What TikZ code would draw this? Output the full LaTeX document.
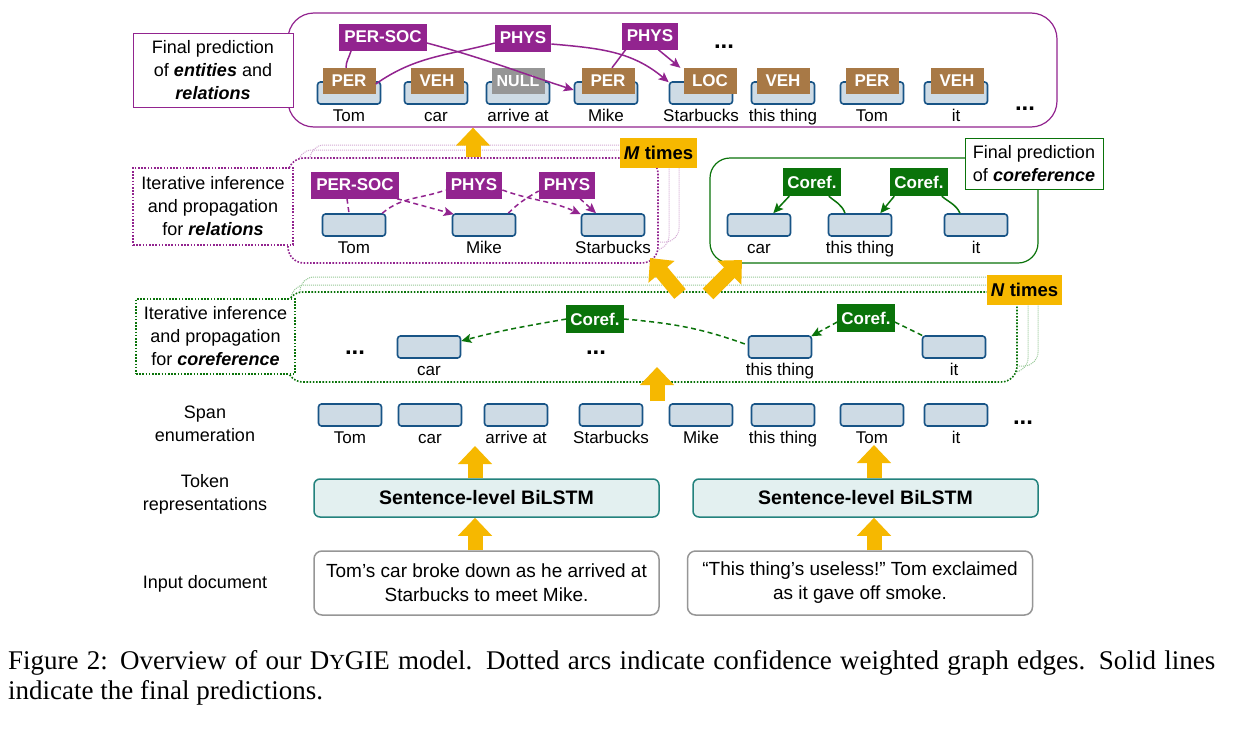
\documentclass[tikz,border=0pt]{standalone}
\usepackage{fontspec}
\setmainfont{Liberation Sans}
\newfontfamily\capfont{Liberation Serif}
\usetikzlibrary{arrows.meta,calc}
\definecolor{pur}{RGB}{146,36,143}
\definecolor{purl}{RGB}{212,170,212}
\definecolor{grn}{RGB}{10,115,10}
\definecolor{grnl}{RGB}{150,200,150}
\definecolor{yel}{RGB}{246,184,0}
\definecolor{brn}{RGB}{168,121,70}
\definecolor{nullg}{RGB}{150,150,150}
\definecolor{spf}{RGB}{206,219,229}
\definecolor{spd}{RGB}{24,84,134}
\definecolor{bif}{RGB}{227,240,240}
\definecolor{bid}{RGB}{35,130,125}
\definecolor{ing}{RGB}{150,150,150}
\newcommand\fs{\fontsize{17}{23}\selectfont}
\newcommand\fsb{\fontsize{17}{20}\selectfont\bfseries}
\newcommand\fl{\fontsize{18}{23}\selectfont}
\newcommand\spanat[4]{\node[spanbox] (#1) at (#2,#3) {}; \node[wordtxt] (#1w) at ($(#1.center)+(0,-28)$) {#4};}
\begin{document}
\begin{tikzpicture}[x=1pt,y=1pt,
 spanbox/.style={draw=spd, fill=spf, line width=1.6pt, rounded corners=3pt, minimum width=63pt, minimum height=22pt, inner sep=0pt},
 wordtxt/.style={font=\fs, inner sep=0pt, anchor=base},
 entlab/.style={fill=brn, text=white, font=\fsb, minimum width=53pt, minimum height=26pt, inner sep=0pt},
 nulllab/.style={entlab, fill=nullg, font=\fontsize{16}{20}\selectfont\bfseries},
 rellab/.style={fill=pur, text=white, font=\fsb, minimum height=27pt, inner xsep=5pt, inner ysep=0pt},
 corlab/.style={fill=grn, text=white, font=\fsb, minimum height=28pt, inner xsep=4pt, inner ysep=0pt},
 timesbox/.style={fill=yel, font=\fontsize{18.5}{20}\selectfont\bfseries, minimum height=30pt, inner xsep=4pt, inner ysep=0pt},
 boxlabel/.style={font=\fl, align=center, fill=white, inner sep=0pt},
 dotline/.style={line width=1.6pt, dash pattern=on 1.6pt off 1.6pt},
 backline/.style={line width=1pt, dash pattern=on 1pt off 1pt},
 relback/.style={draw=purl, backline, rounded corners=14pt, inner sep=0pt},
 relmain/.style={draw=pur, fill=white, dotline, rounded corners=16pt, inner sep=0pt},
 corback/.style={draw=grnl, backline, rounded corners=14pt, inner sep=0pt},
 cormain/.style={draw=grn, fill=white, dotline, rounded corners=16pt, inner sep=0pt},
 topfr/.style={draw=pur, line width=1.2pt, rounded corners=26pt, inner sep=0pt},
 finfr/.style={draw=grn, line width=1.2pt, rounded corners=20pt, inner sep=0pt},
 rsolid/.style={draw=pur, line width=1.5pt},
 rdash/.style={draw=pur, line width=1.5pt, dash pattern=on 5pt off 3.5pt},
 csolid/.style={draw=grn, line width=1.5pt},
 cdash/.style={draw=grn, line width=1.5pt, dash pattern=on 5pt off 3.5pt},
 harrow/.style={-{Stealth[length=10pt,width=9pt,inset=2pt]}},
 yarr/.style={draw=yel, line width=15pt, -{Triangle[length=18pt,width=33pt]}},
 ell/.style={font=\fontsize{24}{24}\selectfont\bfseries, inner sep=0pt, anchor=base},
 lefttxt/.style={font=\fl, align=center, inner sep=0pt},
 bilstm/.style={draw=bid, fill=bif, line width=1.5pt, rounded corners=6pt, minimum width=345pt, minimum height=38pt, inner sep=0pt, font=\fontsize{19.5}{22}\selectfont\bfseries},
 inbox/.style={draw=ing, line width=1.5pt, rounded corners=8pt, minimum width=345pt, minimum height=64pt, inner sep=0pt, align=center, font=\fontsize{19}{24}\selectfont\frenchspacing},
]
\useasboundingbox (0,0) rectangle (1238,-728);
\fill[white] (0,0) rectangle (1238,-728);

% ---------- frames ----------
\node[relback, minimum width=369pt, minimum height=97pt] (rb2) at (494.5,-193.5) {};
\node[relback, minimum width=371pt, minimum height=100pt] (rb1) at (483.5,-200) {};
\node[relmain, minimum width=370pt, minimum height=105pt] (relframe) at (473,-210.5) {};
\node[corback, minimum width=738pt, minimum height=89pt] (cb2) at (669,-321.5) {};
\node[corback, minimum width=737pt, minimum height=87pt] (cb1) at (659.5,-328.5) {};
\node[cormain, minimum width=730pt, minimum height=90pt] (corframe) at (652,-337) {};
\node[topfr, minimum width=769pt, minimum height=114pt] (topframe) at (672.5,-70) {};
\node[finfr, minimum width=328pt, minimum height=105pt] (finframe) at (874,-210.5) {};

% ---------- section labels ----------
\node[boxlabel, draw=pur, line width=0.9pt, minimum width=160pt, minimum height=74pt] (L1) at (213,-70) {Final prediction\\of \textbf{\textit{entities}} and\\\textbf{\textit{relations}}};
\node[boxlabel, draw=pur, dotline, minimum width=160pt, minimum height=77pt] (L2) at (213,-206.5) {Iterative inference\\and propagation\\for \textbf{\textit{relations}}};
\node[boxlabel, draw=grn, dotline, minimum width=159pt, minimum height=75pt] (L3) at (215.5,-336.5) {Iterative inference\\and propagation\\for \textbf{\textit{coreference}}};
\node[boxlabel, draw=grn, line width=0.9pt, minimum width=138pt, minimum height=51pt] (L4) at (1034,-163.5) {Final prediction\\of \textbf{\textit{coreference}}};

% ---------- top row ----------
\spanat{t1}{349}{-93}{Tom}
\spanat{t2}{436}{-93}{car}
\spanat{t3}{518}{-93}{arrive at}
\spanat{t4}{606}{-93}{Mike}
\spanat{t5}{701}{-93}{Starbucks}
\spanat{t6}{783}{-93}{this thing}
\spanat{t7}{872}{-93}{Tom}
\spanat{t8}{956}{-93}{it}
\node[entlab] (e1) at (349,-81) {PER};
\node[entlab] (e2) at (437,-81) {VEH};
\node[nulllab] (e3) at (518,-81) {NULL};
\node[entlab] (e4) at (608,-81) {PER};
\node[entlab] (e5) at (710,-81) {LOC};
\node[entlab] (e6) at (783,-81) {VEH};
\node[entlab] (e7) at (872,-81) {PER};
\node[entlab] (e8) at (957,-81) {VEH};
\node[rellab] (r1) at (383,-37) {PER-SOC};
\node[rellab] (r2) at (523,-38) {PHYS};
\node[rellab] (r3) at (650,-36) {PHYS};
\node[ell] (dt1) at (724,-48) {...};
\node[ell] (dt2) at (1025,-110) {...};
\draw[rsolid] ($(e1.north)+(-3,0)$) to[out=90,in=-105] ($(r1.south west)+(12,0)$);
\draw[rsolid,harrow] ($(r1.east)+(0,-6)$) to[out=-15,in=162] ($(t4.west)+(0,3)$);
\draw[rsolid] ($(e1.east)+(0,-3)$) to[out=35,in=195] ($(r2.west)+(0,-5)$);
\draw[rsolid,harrow] ($(r2.east)+(0,-6)$) to[out=-5,in=140] ($(t5.north west)+(0,-1)$);
\draw[rsolid] ($(e4.north)+(4,0)$) -- ($(r3.south west)+(4,0)$);
\draw[rsolid,harrow] ($(r3.south east)+(-20,0)$) -- ($(e5.north west)+(-3,0)$);

% ---------- iterative relations ----------
\spanat{mA}{354}{-225}{Tom}
\spanat{mB}{484}{-225}{Mike}
\spanat{mC}{613}{-225}{Starbucks}
\node[rellab] (m1) at (355,-185) {PER-SOC};
\node[rellab] (m2) at (474,-185) {PHYS};
\node[rellab] (m3) at (567,-185) {PHYS};
\draw[rdash] ($(m1.south)+(-8,0)$) -- ($(mA.north)+(-5,0)$);
\draw[rdash,harrow] ($(m1.south east)+(-2,0)$) -- ($(mB.north west)+(2,-1)$);
\draw[rdash] ($(mA.north east)+(-4,0)$) to[out=40,in=200] ($(m2.west)+(0,-5)$);
\draw[rdash,harrow] ($(m2.east)+(0,-5)$) to[out=-20,in=155] ($(mC.north west)+(0,-1)$);
\draw[rdash] ($(mB.north east)+(-8,0)$) to[out=45,in=210] ($(m3.west)+(0,-6)$);
\draw[rdash,harrow] ($(m3.south)+(13,0)$) -- ($(mC.north)+(-17,0)$);

% ---------- final coreference ----------
\spanat{fA}{759}{-225}{car}
\spanat{fB}{860}{-225}{this thing}
\spanat{fC}{976}{-225}{it}
\node[corlab] (c1) at (812,-182) {Coref.};
\node[corlab] (c2) at (919,-182) {Coref.};
\draw[csolid,harrow] ($(c1.south west)+(6,0)$) -- ($(fA.north east)+(-18,0)$);
\draw[csolid] ($(c1.south east)+(-12,0)$) to[out=-40,in=110] ($(fB.north)+(-15,0)$);
\draw[csolid,harrow] ($(c2.south west)+(4,0)$) -- ($(fB.north east)+(-12,0)$);
\draw[csolid] ($(c2.south east)+(-6,0)$) to[out=-40,in=115] ($(fC.north)+(-16,0)$);

% ---------- iterative coreference ----------
\spanat{iA}{429}{-347}{car}
\spanat{iB}{780}{-347}{this thing}
\spanat{iC}{954}{-347}{it}
\node[corlab] (i1) at (595,-319) {Coref.};
\node[corlab] (i2) at (866,-318) {Coref.};
\node[ell] (dt3) at (355,-354) {...};
\node[ell] (dt4) at (596,-354) {...};
\draw[cdash,harrow] (i1.west) to[out=190,in=15] ($(iA.east)+(0,6)$);
\draw[cdash] (i1.east) to[out=-5,in=160] ($(iB.west)+(0,2)$);
\draw[cdash,harrow] ($(i2.west)+(0,-4)$) -- ($(iB.north east)+(-1,-1)$);
\draw[cdash] ($(i2.east)+(0,-4)$) -- ($(iC.north west)+(2,-1)$);

% ---------- span enumeration ----------
\spanat{sA}{350}{-415}{Tom}
\spanat{sB}{430}{-415}{car}
\spanat{sC}{516}{-415}{arrive at}
\spanat{sD}{611}{-415}{Starbucks}
\spanat{sE}{701}{-415}{Mike}
\spanat{sF}{783}{-415}{this thing}
\spanat{sG}{872}{-415}{Tom}
\spanat{sH}{956}{-415}{it}
\node[ell] (dt5) at (1023,-424) {...};

% ---------- left labels ----------
\node[lefttxt] (lspan) at (205,-424) {Span\\enumeration};
\node[lefttxt] (ltok) at (205,-494) {Token\\representations};
\node[lefttxt] (linp) at (205,-584) {Input document};

% ---------- encoder ----------
\node[bilstm] (bi1) at (486.5,-498) {Sentence-level BiLSTM};
\node[bilstm] (bi2) at (865.5,-498) {Sentence-level BiLSTM};
\node[inbox] (in1) at (486.5,-583) {Tom’s car broke down as he arrived at\\Starbucks to meet Mike.};
\node[inbox] (in2) at (860,-583) {“This thing’s useless!” Tom exclaimed\\as it gave off smoke.};

% ---------- yellow arrows ----------
\coordinate (ax1) at (475,0);
\coordinate (ax2) at (874,0);
\coordinate (ax3) at (473,0);
\coordinate (tip1) at (475,-446);
\coordinate (tip2) at (874,-445);
\coordinate (y5a) at (657,-401);
\coordinate (y5b) at (657,-367);
\coordinate (y6a) at (680,-294);
\coordinate (y6b) at (650,-258);
\coordinate (y7a) at (708,-294);
\coordinate (y7b) at (742,-260);
\draw[yarr] (in1.north -| ax1) -- (bi1.south -| ax1);
\draw[yarr] (bi1.north -| ax1) -- (tip1);
\draw[yarr] (in2.north -| ax2) -- (bi2.south -| ax2);
\draw[yarr] (bi2.north -| ax2) -- (tip2);
\draw[yarr] (y5a) -- (y5b);
\draw[yarr] (y6a) -- (y6b);
\draw[yarr] (y7a) -- (y7b);
\draw[yarr] (relframe.north -| ax3) -- (topframe.south -| ax3);

% ---------- repeat counters ----------
\node[timesbox] (mt) at (658.5,-153) {\textit{M} times};
\node[timesbox] (nt) at (1024.5,-290) {\textit{N} times};

% ---------- caption ----------
\node[anchor=base west, inner sep=0pt, font=\capfont\fontsize{27}{30}\selectfont] (cap1) at (8,-669) {\makebox[1207pt][s]{Figure 2: Overview of our D{\fontsize{21.5}{24}\selectfont Y}GIE model. Dotted arcs indicate confidence weighted graph edges. Solid lines}};
\node[anchor=base west, inner sep=0pt, font=\capfont\fontsize{27}{30}\selectfont] (cap2) at (8,-699) {indicate the final predictions.};
\end{tikzpicture}
\end{document}
